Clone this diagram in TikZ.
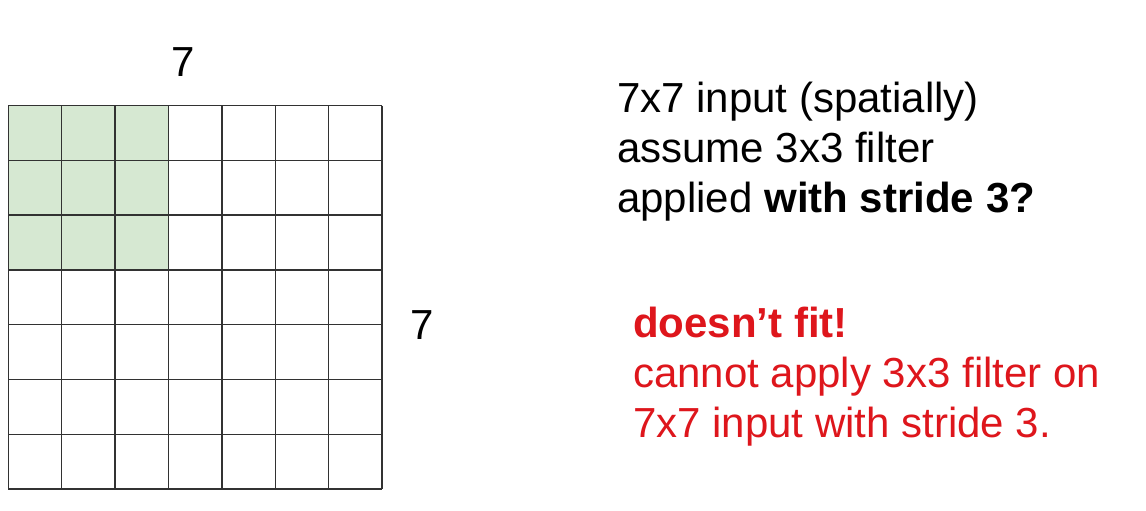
\documentclass[tikz,border=0pt]{standalone}
\usepackage{fontspec}
\setmainfont{Liberation Sans}
\definecolor{filtergreen}{RGB}{214,232,210}
\definecolor{gridgray}{RGB}{50,50,50}
\definecolor{fitred}{RGB}{222,22,28}
\begin{document}
\begin{tikzpicture}[x=1pt,y=-1pt,
	gridline/.style={draw=gridgray,line width=1.5pt},
	txt/.style={anchor=base west,inner sep=0pt,font=\fontsize{42}{50}\selectfont},
	redtxt/.style={txt,text=fitred}]
	\useasboundingbox[fill=white] (0,0) rectangle (1146,511);
	% 3x3 filter in the corner
	\fill[filtergreen] (8.3,105.7) rectangle (168.5,269.8);
	\foreach \i in {0,...,7}{
		\draw[gridline] ({8.3+53.4*\i},105.7) -- ({8.3+53.4*\i},489);
		\draw[gridline] (8.3,{105.7+54.76*\i}) -- (382,{105.7+54.76*\i});
	}
	\node[txt,anchor=base] (topseven) at (183,77) {7};
	\node[txt,anchor=base] (sideseven) at (422,339) {7};
	\node[txt] (lineone) at (617,112) {7x7 input (spatially)};
	\node[txt] (linetwo) at (617,162) {assume 3x3 filter};
	\node[txt] (linethree) at (617,212) {applied \textbf{with stride 3?}};
	\node[redtxt] (fitone) at (633,337) {\textbf{doesn’t fit!}};
	\node[redtxt] (fittwo) at (633,387) {cannot apply 3x3 filter on};
	\node[redtxt] (fitthree) at (633,437) {7x7 input with stride 3.};
\end{tikzpicture}
\end{document}
